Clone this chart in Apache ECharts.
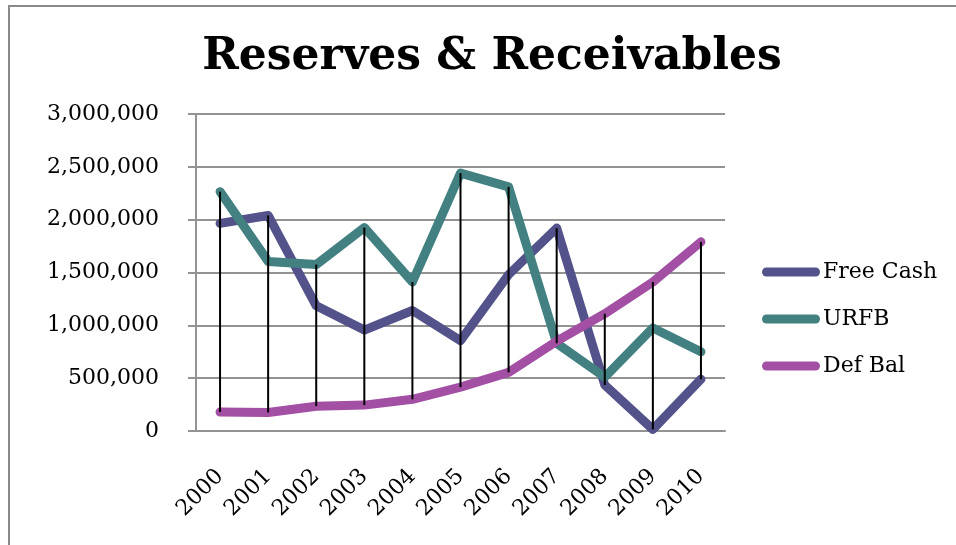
<!DOCTYPE html>
<html>
<head>
<meta charset="utf-8">
<script src="https://cdn.jsdelivr.net/npm/echarts@6/dist/echarts.min.js"></script>
<style>
  html, body { margin: 0; padding: 0; background: #fff; }
  #chart { width: 956px; height: 545px; }
</style>
</head>
<body>
<div id="chart"></div>
<script>
// Year categories along the horizontal axis
var years = ['2000', '2001', '2002', '2003', '2004', '2005', '2006', '2007', '2008', '2009', '2010'];

// Series values (dollars)
var freeCash = [1965000, 2040000, 1185000, 955000, 1140000, 855000, 1480000, 1920000, 435000, 15000, 490000];
var urfb     = [2265000, 1605000, 1575000, 1925000, 1410000, 2440000, 2310000, 830000, 510000, 975000, 750000];
var defBal   = [180000, 175000, 235000, 245000, 300000, 415000, 555000, 850000, 1110000, 1410000, 1790000];

// Value axis range
var yMin = 0;
var yMax = 3000000;
var yStep = 500000;

// High-low spans for each year across the three series
var hiLo = years.map(function (y, i) {
  var vals = [freeCash[i], urfb[i], defBal[i]];
  return [i, Math.min.apply(null, vals), Math.max.apply(null, vals)];
});

var serif = 'DejaVu Serif';
var gray = '#939393';

var chart = echarts.init(document.getElementById('chart'));

function lineSeries(name, data, color) {
  return {
    name: name,
    type: 'line',
    data: data,
    showSymbol: false,
    symbol: 'none',
    smooth: false,
    z: 3,
    lineStyle: { color: color, width: 9, cap: 'round', join: 'round' },
    itemStyle: { color: color },
    emphasis: { disabled: true }
  };
}

chart.setOption({
  animation: false,
  backgroundColor: '#ffffff',
  graphic: [{
    type: 'rect',
    shape: { x: 9, y: 6, width: 1000, height: 600 },
    style: { fill: 'none', stroke: '#8a8a8a', lineWidth: 2 },
    silent: true,
    z: 0
  }],
  title: {
    text: 'Reserves & Receivables',
    left: 487,
    top: 31,
    textAlign: 'center',
    textStyle: {
      fontFamily: serif,
      fontWeight: 'bold',
      fontSize: 44,
      color: '#000'
    }
  },
  legend: {
    orient: 'vertical',
    left: 762,
    top: 261,
    padding: 0,
    itemWidth: 58,
    itemHeight: 9,
    itemGap: 25,
    icon: 'path://M4.5,0 L53.5,0 A4.5,4.5 0 0 1 53.5,9 L4.5,9 A4.5,4.5 0 0 1 4.5,0 Z',
    textStyle: {
      fontFamily: serif,
      fontSize: 22,
      lineHeight: 22,
      color: '#000',
      padding: [0, 0, 0, -2]
    },
    data: ['Free Cash', 'URFB', 'Def Bal']
  },
  grid: {
    left: 196,
    right: 231,
    top: 114,
    bottom: 114,
    containLabel: false
  },
  xAxis: {
    type: 'category',
    data: years,
    boundaryGap: true,
    axisLine: { show: true, lineStyle: { color: gray, width: 2 } },
    axisTick: { show: false },
    axisLabel: {
      rotate: 45,
      margin: 42,
      fontFamily: serif,
      fontSize: 22,
      color: '#000',
      interval: 0
    },
    splitLine: { show: false }
  },
  yAxis: {
    type: 'value',
    min: yMin,
    max: yMax,
    interval: yStep,
    axisLine: { show: true, lineStyle: { color: gray, width: 2 } },
    axisTick: { show: true, length: 8, lineStyle: { color: gray, width: 2 } },
    axisLabel: {
      margin: 37,
      fontFamily: serif,
      fontSize: 22,
      color: '#000',
      formatter: function (v) { return v.toLocaleString('en-US'); }
    },
    splitLine: { show: true, lineStyle: { color: gray, width: 2 } }
  },
  series: [
    lineSeries('Free Cash', freeCash, '#53528a'),
    lineSeries('URFB', urfb, '#428081'),
    lineSeries('Def Bal', defBal, '#a34fa3'),
    {
      name: 'hi-lo',
      type: 'custom',
      data: hiLo,
      z: 5,
      silent: true,
      renderItem: function (params, api) {
        var top = api.coord([api.value(0), api.value(2)]);
        var bottom = api.coord([api.value(0), api.value(1)]);
        return {
          type: 'line',
          shape: { x1: top[0], y1: top[1], x2: bottom[0], y2: bottom[1] },
          style: { stroke: '#000', lineWidth: 2 }
        };
      }
    }
  ]
});
</script>
</body>
</html>
